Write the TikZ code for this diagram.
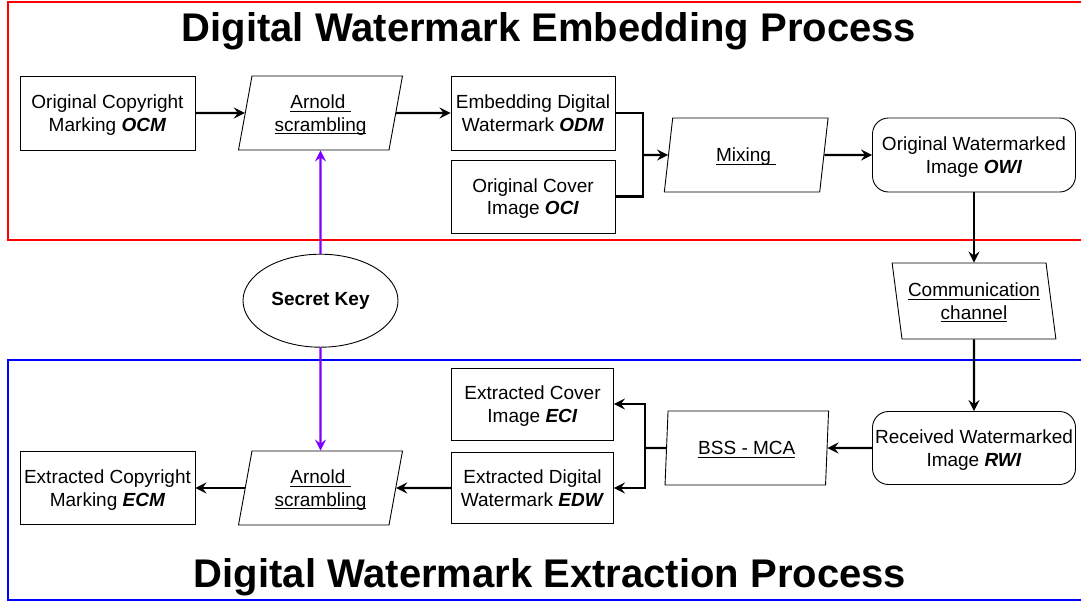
\documentclass[tikz,border=0pt]{standalone}
\usepackage{fontspec}
\setmainfont{Liberation Sans}
\usetikzlibrary{shapes.geometric,arrows.meta}
\definecolor{keyviolet}{HTML}{8000FF}
\definecolor{framered}{HTML}{FF0000}
\definecolor{frameblue}{HTML}{0000FF}
\newcommand\ulx[1]{\setbox0\hbox{#1}\rlap{\rule[-3pt]{\wd0}{1pt}}\box0}
\begin{document}
\begin{tikzpicture}[x=1pt,y=-1pt,
 txt/.style={font=\fontsize{19}{22.5}\selectfont, align=center, inner sep=0pt, text depth=0pt},
 box/.style={txt, draw, line width=0.9pt, minimum width=175pt, minimum height=74pt},
 rbox/.style={box, rounded corners=16pt, minimum width=203pt},
 para/.style={txt, draw, line width=0.9pt, trapezium, trapezium stretches=true,
   trapezium left angle=76, trapezium right angle=104, minimum width=164pt, minimum height=74pt},
 parar/.style={para, trapezium left angle=104, trapezium right angle=76},
 conn/.style={line width=2.2pt},
 arr/.style={conn, -{Stealth[length=11pt,width=11pt,inset=4pt]}},
 karr/.style={arr, keyviolet},
 title/.style={font=\fontsize{40}{48}\selectfont\bfseries, inner sep=0pt, anchor=base},
 frame/.style={line width=2pt}
]
\useasboundingbox (0,0) rectangle (1081,603);
\begin{scope}
\clip (0,0) rectangle (1081,603);
\draw[frame, framered] (8,2) rectangle (1095,240);
\draw[frame, frameblue] (8,360) rectangle (1095,599.5);
\end{scope}

\node[title] (t1) at (549,41.5) {Digital Watermark Embedding Process};
\node[title] (t2) at (550,587) {Digital Watermark Extraction Process};

\node[box] (ocm) at (107.5,113) {Original Copyright\\Marking \textbf{\textit{OCM}}};
\node[para] (arn1) at (320.5,113) {\ulx{Arnold\ }\\\ulx{scrambling}};
\node[box, minimum width=164pt] (odm) at (533,113) {Embedding Digital\\Watermark \textbf{\textit{ODM}}};
\node[box, minimum width=164pt, minimum height=73pt] (oci) at (533,196.5) {Original Cover\\Image \textbf{\textit{OCI}}};
\node[para] (mix) at (746.2,155) {\ulx{Mixing\ }};
\node[rbox] (owi) at (974,155) {Original Watermarked\\Image \textbf{\textit{OWI}}};
\node[parar, minimum height=76pt] (cc) at (974,301) {\ulx{Communication}\\\ulx{channel}};
\node[rbox, minimum height=73pt] (rwi) at (974,448) {Received Watermarked\\Image \textbf{\textit{RWI}}};
\node[para, trapezium left angle=82, trapezium right angle=98] (bss) at (746.8,448) {\ulx{BSS - MCA}};
\node[box, minimum width=162pt, minimum height=72pt] (eci) at (532.5,404) {Extracted Cover\\Image \textbf{\textit{ECI}}};
\node[box, minimum width=162pt, minimum height=71pt] (edw) at (532.5,488) {Extracted Digital\\Watermark \textbf{\textit{EDW}}};
\node[para] (arn2) at (320.5,488) {\ulx{Arnold\ }\\\ulx{scrambling}};
\node[box, minimum height=73pt] (ecm) at (107.5,488) {Extracted Copyright\\Marking \textbf{\textit{ECM}}};
\node[ellipse, draw, line width=0.9pt, minimum width=155pt, minimum height=93pt,
  font=\fontsize{19}{22}\selectfont\bfseries, inner sep=0pt] (key) at (320.5,300.7) {Secret Key};

\draw[arr] (ocm) -- (arn1);
\draw[arr] (arn1) -- (odm);
\coordinate (j1) at (643.3,155);
\draw[conn] (odm.east) -| (j1) |- (oci.east);
\draw[arr] (j1) -- (mix);
\draw[arr] (mix) -- (owi);
\draw[arr] (owi) -- (cc);
\draw[arr] (cc) -- (rwi);
\draw[arr] (rwi) -- (bss);
\coordinate (j2) at (645,448);
\draw[conn] (bss) -- (j2);
\draw[arr] (j2) |- (eci.east);
\draw[arr] (j2) |- (edw.east);
\draw[arr] (edw) -- (arn2);
\draw[arr] (arn2) -- (ecm);
\draw[karr] (key) -- (arn1);
\draw[karr] (key) -- (arn2);
\end{tikzpicture}
\end{document}
